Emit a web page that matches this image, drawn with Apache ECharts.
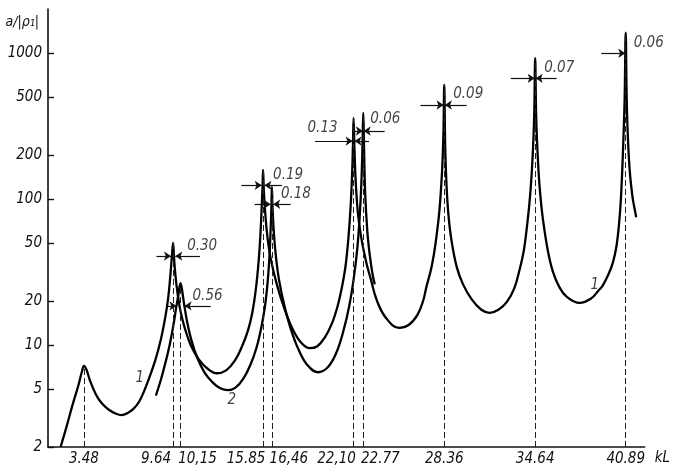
<!DOCTYPE html>
<html><head><meta charset="utf-8">
<script src="https://cdn.jsdelivr.net/npm/echarts@6/dist/echarts.min.js"></script>
<style>html,body{margin:0;padding:0;background:#fff}#c{width:673px;height:473px}</style>
</head><body><div id="c"></div>
<script>
// ---- data ----
const xTicks = [3.48, 9.64, 10.15, 15.85, 16.46, 22.10, 22.77, 28.36, 34.64, 40.89];
const xTickLabels = ['3.48', '9.64', '10,15', '15.85', '16,46', '22,10', '22.77', '28.36', '34.64', '40.89'];
const yTicks = [2, 5, 10, 20, 50, 100, 200, 500, 1000];
const peakTops = [7.2, 50, 26.5, 158, 121, 359, 388, 603, 923, 1378];

const curve1X = [1.87,2.3,2.7,3.1,3.35,3.48,3.65,3.9,4.3,4.7,5.2,5.7,6.08,6.5,6.9,7.3,7.7,8.0,8.4,8.8,9.1,9.3,9.45,9.56,9.64,
  9.7,9.8,9.95,10.15,10.45,10.85,11.4,12.0,12.66,13.3,13.9,14.4,14.8,15.1,15.35,15.55,15.68,15.77,15.82,15.85,
  15.91,16.0,16.15,16.4,16.8,17.3,17.9,18.5,19.08,19.6,20.1,20.6,21.0,21.3,21.55,21.75,21.9,22.0,22.06,22.10,
  22.16,22.25,22.4,22.62,22.97,23.3,23.68,24.3,25.23,25.9,26.5,26.9,27.13,27.45,27.65,27.82,28.0,28.12,28.23,28.31,28.36,
  28.43,28.51,28.64,28.86,29.23,29.66,30.26,30.9,31.5,32.1,32.7,33.2,33.57,33.85,34.05,34.25,34.4,34.52,34.58,34.64,
  34.7,34.76,34.88,35.0,35.18,35.5,35.85,36.3,36.79,37.71,38.5,39.0,39.3,39.7,40.0,40.26,40.47,40.6,40.75,40.82,40.89,
  40.95,41.02,41.16,41.35,41.5,41.62];
const curve1Y = [2.0,2.8,3.9,5.3,6.6,7.2,6.8,5.7,4.6,4.0,3.6,3.38,3.31,3.42,3.65,4.1,5.0,6.0,7.8,11,15.5,21,30,41,50,
  40,30,22.5,17,13,10,8.0,6.9,6.4,6.7,7.8,9.8,12.5,16.5,24,38,60,95,125,158,
  110,80,55,38,26,18,12.8,10.3,9.5,9.8,11.2,14,18.5,25,35,55,90,150,240,359,
  220,130,80,55,37,28,20.5,15.5,13.1,13.7,16,20,25,33,42,55,78,110,170,300,603,
  220,130,80,52,34,26,20.5,17.5,16.6,17.4,19.8,24.5,33,44,62,95,150,260,400,923,
  400,260,150,105,72,45,32,25,21.5,19.4,20.8,23.5,25.5,30.5,36.5,48,75,120,290,500,1378,
  550,300,160,105,86,75];

const curve2X = [8.45,8.8,9.1,9.4,9.65,9.85,10.0,10.15,
  10.25,10.4,10.6,10.9,11.3,11.8,12.4,12.9,13.42,13.95,14.5,15.0,15.4,15.75,16.0,16.18,16.3,16.38,16.43,16.46,
  16.5,16.58,16.72,16.95,17.3,17.75,18.3,18.9,19.63,20.3,20.9,21.4,21.8,22.1,22.35,22.52,22.64,22.72,22.77,
  22.82,22.9,23.05,23.22,23.4,23.56];
const curve2Y = [4.5,5.8,7.5,10,13.5,18,22,26.5,
  24,19,14.5,10.8,8.2,6.5,5.5,5.05,4.9,5.1,5.9,7.4,9.6,13.5,19,28,42,65,90,121,
  90,62,42,28,19,13,9.3,7.3,6.5,7.0,8.8,12.5,18.5,28,45,75,130,240,388,
  230,110,60,41,31,26];

// bandwidth annotations
const annotX = [9.64, 10.15, 15.85, 16.46, 22.10, 22.77, 28.36, 34.64, 40.89];
const annotWidth = [0.30, 0.56, 0.19, 0.18, 0.13, 0.06, 0.09, 0.07, 0.06];
const annotLevel = [40.6, 18.5, 124, 92, 249, 292, 440, 670, 995];
const annotText = ['0.30', '0.56', '0.19', '0.18', '0.13', '0.06', '0.09', '0.07', '0.06'];

// curve tags
const tagText = ['1', '2', '1'];
const tagX = [7.34, 13.69, 38.75];
const tagY = [5.9, 4.2, 25.8];

// ---- styling (not data) ----
const armL = [1.0, 0.6, 1.4, 1.1, 2.6, 0.6, 1.6, 1.65, 1.65];
const armR = [1.7, 1.8, 1.2, 1.2, 1.0, 1.45, 1.5, 1.45, 1.45];
const labDx = [14, 12, 10, 9, -16, 7, 9, 9, 8];
const labDy = [-10, -10, -10, -10, -13, -12, -11, -10, -10];
const xLabelAlign = ['c', 'l', 'r', 'l', 'r', 'l', 'r', 'c', 'c', 'c'];

const FONT = "'Liberation Sans Narrow','DejaVu Sans Condensed','DejaVu Sans',sans-serif";
const txt = {fontFamily: FONT, fontStyle: 'italic', fontSize: 15, color: '#111'};

const chart = echarts.init(document.getElementById('c'), null, {renderer: 'canvas'});

const arrowData = [];
annotX.forEach((p, i) => {
  const h = annotWidth[i] / 2, y = annotLevel[i];
  arrowData.push([{coord: [p - h - armL[i], y]}, {coord: [p - h, y]}]);
  arrowData.push([{coord: [p + h + armR[i], y]}, {coord: [p + h, y]}]);
});
const dashData = xTicks.map((x, i) => [{coord: [x, 2]}, {coord: [x, peakTops[i]]}]);

chart.setOption({
  animation: false,
  backgroundColor: '#fff',
  grid: {left: 48, right: 28, top: 9, bottom: 26},
  xAxis: {
    type: 'value', min: 1, max: 42.2,
    name: 'kL', nameLocation: 'end', nameGap: 10,
    nameTextStyle: Object.assign({}, txt, {verticalAlign: 'top', padding: [4, 0, 0, 0]}),
    axisLine: {lineStyle: {color: '#111', width: 1.6}},
    axisTick: {show: false},
    splitLine: {show: false},
    axisLabel: Object.assign({}, txt, {
      customValues: xTicks, margin: 5,
      formatter: v => {
        const i = xTicks.findIndex(t => Math.abs(t - v) < 1e-6);
        if (i < 0) return '';
        return '{' + xLabelAlign[i] + '|' + xTickLabels[i] + '}';
      },
      rich: {
        c: Object.assign({}, txt),
        l: Object.assign({}, txt, {padding: [0, 34, 0, 0]}),
        r: Object.assign({}, txt, {padding: [0, 0, 0, 34]})
      }
    })
  },
  yAxis: {
    type: 'log', logBase: 10, min: 2, max: 2000,
    name: 'a/|ρ₁|', nameLocation: 'end', nameGap: -13,
    nameTextStyle: Object.assign({}, txt, {fontSize: 14, align: 'right', verticalAlign: 'middle', padding: [0, 9, 0, 0]}),
    axisLine: {show: true, lineStyle: {color: '#111', width: 1.6}},
    axisTick: {show: true, inside: true, length: 6, customValues: yTicks, lineStyle: {color: '#111', width: 1.4}},
    minorTick: {show: false},
    splitLine: {show: false},
    axisLabel: Object.assign({}, txt, {customValues: yTicks, margin: 6, formatter: v => String(v)})
  },
  series: [
    {
      type: 'line', name: 'curve1', data: curve1X.map((x, i) => [x, curve1Y[i]]),
      showSymbol: false, symbol: 'none', smooth: 0.4, z: 4,
      lineStyle: {color: '#000', width: 2.3}
    },
    {
      type: 'line', name: 'curve2', data: curve2X.map((x, i) => [x, curve2Y[i]]),
      showSymbol: false, symbol: 'none', smooth: 0.4, z: 4,
      lineStyle: {color: '#000', width: 2.3},
      markLine: {
        silent: true, symbol: ['none', 'none'], animation: false,
        label: {show: false},
        lineStyle: {color: '#222', width: 1, type: [6, 3]},
        data: dashData
      }
    },
    {
      type: 'scatter', name: 'bandwidth', symbolSize: 0, z: 5,
      data: annotX.map((x, i) => ({
        value: [x, annotLevel[i]],
        label: {
          show: true, formatter: annotText[i],
          position: labDx[i] < 0 ? 'left' : 'right', distance: 0,
          offset: [labDx[i], labDy[i]]
        }
      })),
      label: Object.assign({}, txt, {fontSize: 15}),
      markLine: {
        silent: true, symbol: ['none', 'arrow'], symbolSize: 7, animation: false,
        label: {show: false},
        lineStyle: {color: '#111', width: 1.2, type: 'solid'},
        data: arrowData
      }
    },
    {
      type: 'scatter', name: 'tags', symbolSize: 0, z: 5,
      data: tagX.map((x, i) => ({value: [x, tagY[i]], label: {show: true, formatter: tagText[i]}})),
      label: Object.assign({}, txt, {fontSize: 15, position: 'inside'})
    }
  ]
});
</script>
</body></html>
